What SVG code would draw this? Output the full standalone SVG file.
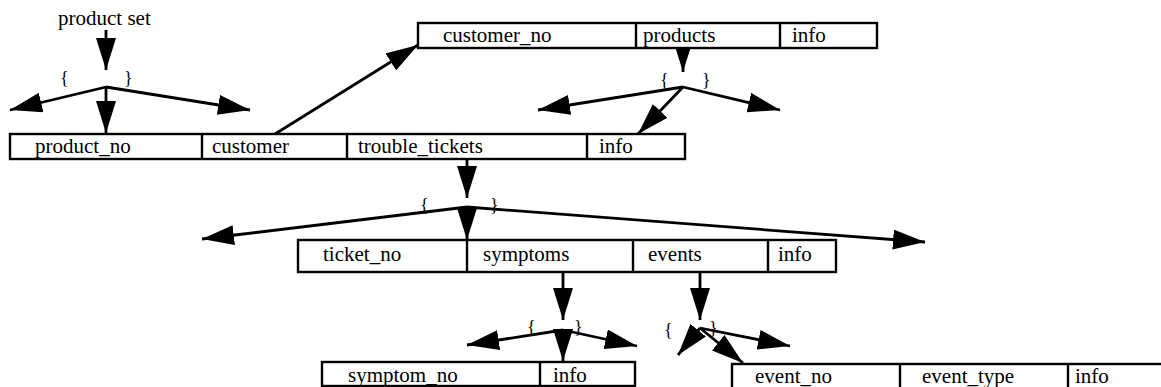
<svg xmlns="http://www.w3.org/2000/svg" width="1161" height="387" viewBox="0 0 1161 387">
<style>
  .box { fill: #fff; stroke: #000; stroke-width: 2.4; }
  .div { stroke: #000; stroke-width: 2.4; }
  .t { font-family: "Liberation Serif", "Times New Roman", serif; font-size: 21px; fill: #000; }
  .br { font-family: "Liberation Serif", "Times New Roman", serif; font-size: 18px; fill: #000; }
  .c { stroke: #000; stroke-width: 2.8; fill: none; marker-end: url(#ah); }
</style>
<defs>
  <marker id="ah" markerUnits="userSpaceOnUse" markerWidth="32" markerHeight="20" refX="32" refY="10" orient="auto">
    <path d="M0,0 L32,10 L0,20 z" fill="#000"/>
  </marker>
</defs>
<rect width="1161" height="387" fill="#fff"/>

<text class="t" x="58" y="25">product set</text>

<g id="connectors">
  <line class="c" x1="106" y1="30" x2="106" y2="70"/>
  <line class="c" x1="106" y1="87" x2="10" y2="110"/>
  <line class="c" x1="106" y1="87" x2="106" y2="133"/>
  <line class="c" x1="106" y1="87" x2="250" y2="110"/>

  <line class="c" x1="275" y1="134" x2="418" y2="45"/>

  <line class="c" x1="683" y1="48" x2="683" y2="72"/>
  <line class="c" x1="683" y1="87" x2="538" y2="110"/>
  <line class="c" x1="683" y1="87" x2="638" y2="134"/>
  <line class="c" x1="683" y1="87" x2="780" y2="110"/>

  <line class="c" x1="467" y1="159" x2="467" y2="198"/>
  <line class="c" x1="467" y1="207" x2="202" y2="239"/>
  <line class="c" x1="467" y1="207" x2="467" y2="240"/>
  <line class="c" x1="467" y1="207" x2="925" y2="242"/>

  <line class="c" x1="563" y1="272" x2="563" y2="320"/>
  <line class="c" x1="563" y1="330" x2="467" y2="345"/>
  <line class="c" x1="563" y1="330" x2="563" y2="361"/>
  <line class="c" x1="563" y1="330" x2="637" y2="346"/>

  <line class="c" x1="700" y1="272" x2="700" y2="320"/>
  <line class="c" x1="700" y1="328" x2="678" y2="355"/>
  <line class="c" x1="700" y1="328" x2="743" y2="363"/>
  <line class="c" x1="700" y1="328" x2="790" y2="346"/>
</g>

<g id="braces">
  <text class="br" x="60" y="84">{</text><text class="br" x="124" y="84">}</text>
  <text class="br" x="660" y="86">{</text><text class="br" x="702" y="86">}</text>
  <text class="br" x="420" y="211">{</text><text class="br" x="490" y="211">}</text>
  <text class="br" x="527" y="333">{</text><text class="br" x="574" y="333">}</text>
  <text class="br" x="664" y="336">{</text><text class="br" x="709" y="334">}</text>
</g>

<g id="product">
  <rect class="box" x="10" y="134" width="675" height="25"/>
  <line class="div" x1="202" y1="134" x2="202" y2="159"/>
  <line class="div" x1="347" y1="134" x2="347" y2="159"/>
  <line class="div" x1="587" y1="134" x2="587" y2="159"/>
  <text class="t" x="35" y="153">product_no</text>
  <text class="t" x="212" y="153">customer</text>
  <text class="t" x="358" y="153">trouble_tickets</text>
  <text class="t" x="599" y="153">info</text>
</g>

<g id="customer">
  <rect class="box" x="418" y="23" width="459" height="25"/>
  <line class="div" x1="636" y1="23" x2="636" y2="48"/>
  <line class="div" x1="780" y1="23" x2="780" y2="48"/>
  <text class="t" x="443" y="42">customer_no</text>
  <text class="t" x="643" y="42">products</text>
  <text class="t" x="792" y="42">info</text>
</g>

<g id="ticket">
  <rect class="box" x="298" y="240" width="538" height="32"/>
  <line class="div" x1="467" y1="240" x2="467" y2="272"/>
  <line class="div" x1="633" y1="240" x2="633" y2="272"/>
  <line class="div" x1="768" y1="240" x2="768" y2="272"/>
  <text class="t" x="323" y="261">ticket_no</text>
  <text class="t" x="483" y="261">symptoms</text>
  <text class="t" x="648" y="261">events</text>
  <text class="t" x="778" y="261">info</text>
</g>

<g id="symptom">
  <rect class="box" x="322" y="362" width="313" height="24"/>
  <line class="div" x1="540" y1="362" x2="540" y2="386"/>
  <text class="t" x="348" y="382">symptom_no</text>
  <text class="t" x="553" y="382">info</text>
</g>

<g id="event">
  <rect class="box" x="732" y="364" width="440" height="30"/>
  <line class="div" x1="900" y1="364" x2="900" y2="394"/>
  <line class="div" x1="1068" y1="364" x2="1068" y2="394"/>
  <text class="t" x="755" y="383">event_no</text>
  <text class="t" x="922" y="383">event_type</text>
  <text class="t" x="1075" y="383">info</text>
</g>
</svg>
